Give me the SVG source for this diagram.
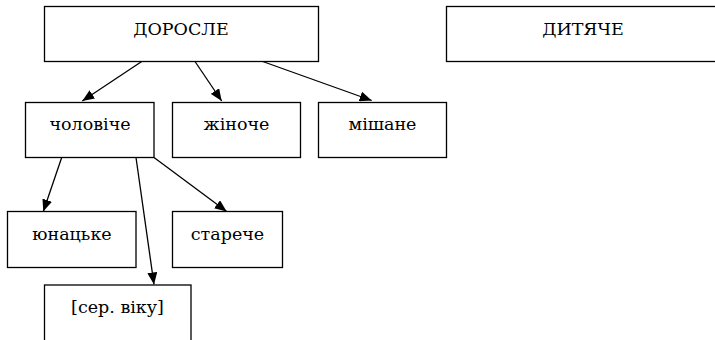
<svg xmlns="http://www.w3.org/2000/svg" width="715" height="340" viewBox="0 0 715 340">
<style>
.box{fill:#fff;stroke:#000;stroke-width:1.3}
.lbl{font-family:"DejaVu Serif","Liberation Serif",serif;font-size:17.5px;fill:#000;text-anchor:middle}
.edge{stroke:#000;stroke-width:1.3;fill:none;marker-end:url(#ah)}
</style>
<defs>
<marker id="ah" viewBox="0 0 12 10" refX="12" refY="5" markerWidth="12" markerHeight="10" markerUnits="userSpaceOnUse" orient="auto">
<path d="M0,0 L12,5 L0,10 Z" fill="#000"/>
</marker>
</defs>
<rect width="715" height="340" fill="#fff"/>
<g id="nodes">
<g id="n-doroslo"><rect class="box" x="44.5" y="6.5" width="274" height="55"/><text class="lbl" x="181" y="34.5">ДОРОСЛЕ</text></g>
<g id="n-dytyache"><rect class="box" x="446.5" y="6.5" width="274" height="55"/><text class="lbl" x="583" y="34.5">ДИТЯЧЕ</text></g>
<g id="n-cholovache"><rect class="box" x="25.5" y="102.5" width="128.5" height="55"/><text class="lbl" x="90" y="130">чоловіче</text></g>
<g id="n-zhinoche"><rect class="box" x="172.5" y="102.5" width="128" height="55"/><text class="lbl" x="236.5" y="130">жіноче</text></g>
<g id="n-mishane"><rect class="box" x="318.5" y="102.5" width="128" height="55"/><text class="lbl" x="382.5" y="130">мішане</text></g>
<g id="n-yunatske"><rect class="box" x="7.5" y="211.5" width="128.5" height="56"/><text class="lbl" x="72" y="240">юнацьке</text></g>
<g id="n-stareche"><rect class="box" x="172.5" y="211.5" width="110" height="56"/><text class="lbl" x="227.5" y="240">старече</text></g>
<g id="n-ser"><rect class="box" x="44.5" y="285" width="146.5" height="70"/><text class="lbl" x="117.5" y="313">[сер. віку]</text></g>
</g>
<g id="connectors">
<line class="edge" x1="141.7" y1="61.5" x2="82.3" y2="101"/>
<line class="edge" x1="195" y1="61.5" x2="221.7" y2="101"/>
<line class="edge" x1="262.7" y1="61.5" x2="371.7" y2="100.5"/>
<line class="edge" x1="61.7" y1="157.5" x2="43.3" y2="211.5"/>
<line class="edge" x1="136" y1="157.5" x2="154" y2="284.5"/>
<line class="edge" x1="154" y1="157.5" x2="226.7" y2="211.5"/>
</g>
</svg>
